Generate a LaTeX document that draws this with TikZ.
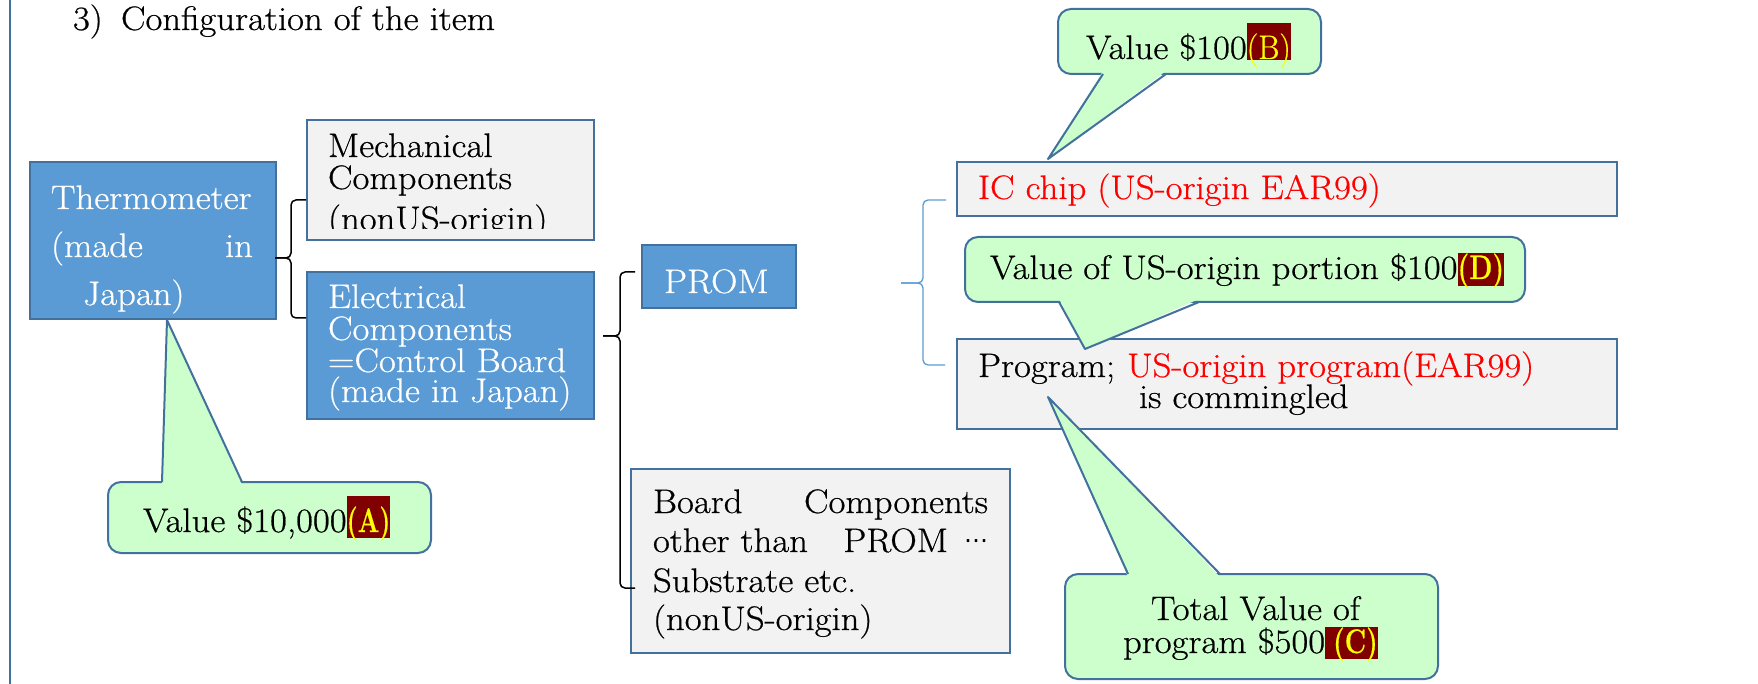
\documentclass[tikz,border=0pt]{standalone}
\usepackage{fontspec}
\setmainfont{Latin Modern Roman}[FakeStretch=1.08, FakeBold=0.6]
\newfontfamily\dejavu{DejaVu Sans}
\usepackage{graphicx}
\definecolor{boxblue}{HTML}{5B9BD5}
\definecolor{edge}{HTML}{41719C}
\definecolor{boxgray}{HTML}{F2F2F2}
\definecolor{callgreen}{HTML}{CCFFCC}
\definecolor{hlred}{HTML}{800000}
\definecolor{hlyellow}{HTML}{FFFF00}
\definecolor{usred}{HTML}{FF0000}
\newcommand{\fs}{\fontsize{34}{40}\selectfont}
\newcommand{\hlbox}[4]{{\setlength{\fboxsep}{0pt}\colorbox{hlred}{\rule[-#1pt]{0pt}{#2pt}\smash{\textcolor{hlyellow}{\scalebox{#3}[1]{#4}}}}}}
\tikzset{
  bluebox/.style={draw=edge, fill=boxblue, line width=2.5pt, rectangle, inner sep=0pt, outer sep=0pt, anchor=north west},
  graybox/.style={draw=edge, fill=boxgray, line width=2.5pt, rectangle, inner sep=0pt, outer sep=0pt, anchor=north west},
  callbox/.style={draw=edge, fill=callgreen, line width=2pt, rounded corners=13pt, rectangle, inner sep=0pt, outer sep=0pt, anchor=north west},
  txt/.style={anchor=base west, inner sep=0pt, outer sep=0pt, font=\fs},
  etxt/.style={anchor=base east, inner sep=0pt, outer sep=0pt, font=\fs},
  brace/.style={draw=black, line width=1.5pt, rounded corners=5pt},
  bluebrace/.style={draw=boxblue, line width=1.3pt, rounded corners=5pt},
  ptrfill/.style={fill=callgreen},
  ptrline/.style={draw=edge, line width=2pt, line join=round},
}
\begin{document}
\begin{tikzpicture}[x=1pt,y=-1pt]
\useasboundingbox (0,0) rectangle (1758,684);
% left frame line
\draw[edge, line width=2pt] (10,0) -- (10,684);
% title
\node[txt] (t3) at (73,30) {3)};
\node[txt] (title) at (121,30) {Configuration of the item};

% boxes
\node[bluebox, minimum width=246pt, minimum height=157pt] (thermo) at (30,162) {};
\node[graybox, minimum width=287pt, minimum height=120pt] (mech) at (307,120) {};
\node[bluebox, minimum width=287pt, minimum height=147pt] (elec) at (307,272) {};
\node[bluebox, minimum width=154pt, minimum height=63pt] (prom) at (642,245) {};
\node[graybox, minimum width=379pt, minimum height=184pt] (board) at (631,469) {};
\node[graybox, minimum width=660pt, minimum height=54pt] (ic) at (957,162) {};
\node[graybox, minimum width=660pt, minimum height=90pt] (prog) at (957,339) {};

% thermometer text
\node[txt, text=white] (th1) at (51,209) {Thermometer};
\node[txt, text=white] (th2) at (51,257) {(made};
\node[etxt, text=white] (th3) at (253,257) {in};
\node[txt, text=white] (th4) at (83,305) {Japan)};

% mechanical text (clipped)
\begin{scope}
\clip (307,110) rectangle (594,229);
\node[txt] (me1) at (328,157) {Mechanical};
\node[txt] (me2) at (328,189) {Components};
\node[txt] (me3) at (328,230) {(nonUS-origin)};
\end{scope}

% electrical text
\node[txt, text=white] (el1) at (328,308) {Electrical};
\node[txt, text=white] (el2) at (328,340) {Components};
\node[txt, text=white] (el3) at (328,372) {=Control Board};
\node[txt, text=white] (el4) at (328,402) {(made in Japan)};

% PROM
\node[txt, text=white] (pr1) at (664,293) {PROM};

% board text
\node[txt] (bo1) at (653,513) {Board};
\node[etxt] (bo2) at (988,513) {Components};
\node[txt] (bo3) at (653,552) {other than};
\node[etxt] (bo4) at (948,552) {PROM};
\node[etxt] (bo5) at (988,548) {\dejavu\fontsize{24}{28}\selectfont ⋯};
\node[txt] (bo6) at (653,592) {Substrate etc.};
\node[txt] (bo7) at (653,630) {(nonUS-origin)};

% IC chip
\node[txt, text=usred] (ic1) at (978,199) {IC chip (US-origin EAR99)};

% program
\node[txt] (pg1) at (978,377) {Program;\hspace{12pt}\textcolor{usred}{US-origin program(EAR99)}};
\node[txt] (pg2) at (1139,408) {is commingled};

% braces
\coordinate (b1t) at (306,200);
\coordinate (b1tip) at (275,258);
\coordinate (b1b) at (306,318);
\draw[brace] (b1t) -- (291,200) -- (291,258) -- (b1tip);
\draw[brace] (b1tip) -- (291,258) -- (291,318) -- (b1b);

\coordinate (b2t) at (635,272);
\coordinate (b2tip) at (603,336);
\coordinate (b2b) at (635,588);
\draw[brace] (b2t) -- (620,272) -- (620,336) -- (b2tip);
\draw[brace] (b2tip) -- (620,336) -- (620,588) -- (b2b);

\coordinate (b3t) at (946,200);
\coordinate (b3tip) at (901,283);
\coordinate (b3b) at (945,365);
\draw[bluebrace] (b3t) -- (923,200) -- (923,283) -- (b3tip);
\draw[bluebrace] (b3tip) -- (923,283) -- (923,365) -- (b3b);

% callout B
\node[callbox, minimum width=263pt, minimum height=65pt] (cB) at (1058,9) {};
\coordinate (pBtip) at (1048,159);
\fill[ptrfill] (1103,71) -- (pBtip) -- (1166,71) -- cycle;
\draw[ptrline] (1103,74) -- (pBtip) -- (1166,74);
\node[txt] (tB) at (1086,59) {Value \$100\hlbox{1}{37}{0.88}{(B)}};

% callout D
\node[callbox, minimum width=560pt, minimum height=65pt] (cD) at (965,237) {};
\coordinate (pDtip) at (1085,349);
\fill[ptrfill] (1059,299) -- (pDtip) -- (1199,299) -- cycle;
\draw[ptrline] (1059,302) -- (pDtip) -- (1199,302);
\node[txt] (tD) at (990,279) {Value of US-origin portion \$100\hlbox{7}{33}{0.73}{\bfseries (D)}};

% callout C
\node[callbox, minimum width=373pt, minimum height=105pt] (cC) at (1065,574) {};
\coordinate (pCtip) at (1048,397);
\fill[ptrfill] (1128,577) -- (pCtip) -- (1220,577) -- cycle;
\draw[ptrline] (1128,574) -- (pCtip) -- (1220,574);
\node[txt] (tC1) at (1151,620) {Total Value of};
\node[txt] (tC2) at (1123,653) {program \$500\hlbox{6}{32}{0.72}{\hspace{11pt}\bfseries (C)}};

% callout A
\node[callbox, minimum width=323pt, minimum height=71pt] (cA) at (108,482) {};
\coordinate (pAtip) at (167,320);
\fill[ptrfill] (162,485) -- (pAtip) -- (242,485) -- cycle;
\draw[ptrline] (162,482) -- (pAtip) -- (242,482);
\node[txt] (tA) at (143,532) {Value \$10,000\hlbox{6}{42}{0.69}{\bfseries (A)}};
\end{tikzpicture}
\end{document}
